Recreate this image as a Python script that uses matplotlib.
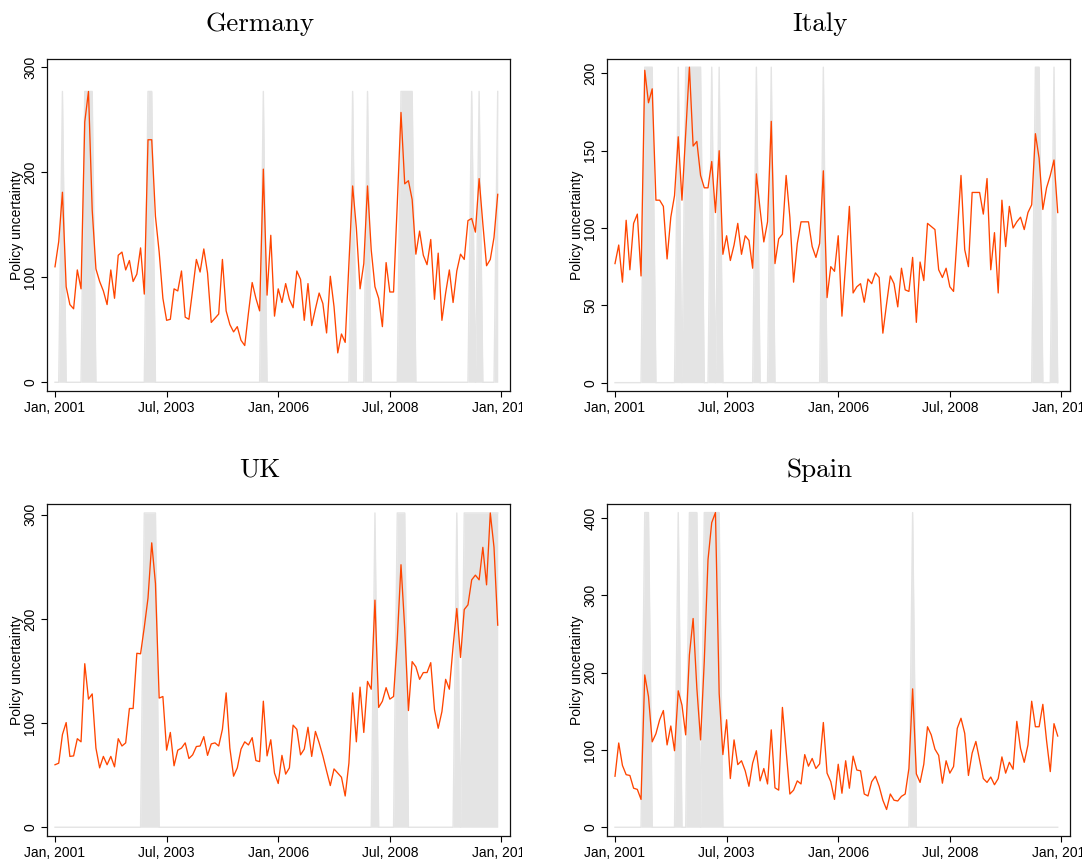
import matplotlib
matplotlib.use('Agg')
import matplotlib.pyplot as plt
import numpy as np
import pandas as pd
from matplotlib.transforms import Bbox, TransformedBbox

plt.rcParams['font.family'] = ['Liberation Sans', 'DejaVu Sans']

# Monthly policy uncertainty index, Jan 2001 - Dec 2010
months = np.arange(120)
tick_months = [0, 30, 60, 90, 120]
tick_labels = [p.strftime('%b, %Y') for p in pd.period_range('2001-01', periods=121, freq='M')[tick_months]]

germany = [110, 134, 181, 91, 74, 70, 107, 89, 248, 277,
           164, 108, 96, 87, 74, 107, 80, 121, 124, 107,
           116, 96, 103, 128, 84, 231, 231, 158, 124, 80,
           59, 60, 89, 87, 106, 62, 60, 88, 117, 105,
           127, 104, 57, 61, 65, 117, 68, 55, 48, 53,
           40, 35, 66, 95, 80, 68, 203, 83, 140, 63,
           89, 76, 94, 79, 71, 106, 98, 59, 94, 54,
           70, 85, 75, 47, 101, 72, 28, 46, 38, 113,
           187, 147, 89, 113, 187, 126, 91, 80, 53, 114,
           86, 86, 170, 257, 189, 192, 174, 122, 144, 121,
           112, 136, 79, 123, 59, 85, 107, 76, 106, 122,
           117, 154, 156, 143, 194, 151, 111, 117, 138, 179]

italy = [77, 89, 65, 105, 73, 103, 109, 69, 202, 181,
         190, 118, 118, 114, 80, 107, 121, 159, 118, 161,
         204, 153, 156, 134, 126, 126, 143, 110, 150, 83,
         95, 79, 89, 103, 83, 95, 92, 74, 135, 112,
         91, 104, 169, 77, 93, 96, 134, 107, 65, 90,
         104, 104, 104, 88, 81, 90, 137, 55, 75, 72,
         95, 43, 77, 114, 58, 62, 64, 52, 67, 64,
         71, 68, 32, 51, 69, 64, 49, 74, 60, 59,
         81, 39, 78, 66, 103, 101, 99, 73, 68, 74,
         62, 59, 96, 134, 86, 75, 123, 123, 123, 109,
         132, 73, 97, 58, 118, 88, 114, 100, 104, 107,
         99, 110, 115, 161, 145, 112, 126, 134, 144, 110]

uk = [60, 61.5, 89, 100.5, 68, 68.5, 85, 82, 157, 123,
      128, 76, 57, 68, 60, 68, 58, 85, 78, 81,
      114, 114, 167, 166.5, 192, 220, 273, 234, 124, 125.5,
      74, 91, 59, 74, 76, 81, 66, 69.5, 77.5, 78,
      87, 69, 80, 81, 78, 94, 129, 76, 49, 57,
      75, 82, 79, 86, 64, 63, 121, 68.5, 84, 52,
      42, 69, 51, 57, 98, 94, 69.5, 75, 96, 68,
      92, 81, 68.5, 54, 40, 56, 52, 48, 30, 61.5,
      129, 82, 134.5, 91, 140, 132.5, 218, 115, 121, 134,
      123, 125.5, 180, 252, 191, 112, 159, 154, 142, 148.5,
      148.5, 158, 113, 95, 111, 142, 132.5, 173.5, 210, 163,
      209, 213.5, 237.5, 242, 237.5, 268.7, 232.7, 301.7, 268.7, 194]

spain = [66, 109, 80, 68, 67, 50.5, 49, 36, 197, 169,
         110.5, 121, 139, 151, 106.5, 131, 99, 176.5, 158, 119.5,
         223, 270, 180, 113, 215, 346, 394, 407, 173, 94,
         139, 63, 113, 81, 86, 73, 53, 83, 99, 60,
         76, 56, 126, 51, 48, 155, 99, 43, 48, 60,
         56, 94, 79, 89, 76, 82, 135.5, 70, 59, 36,
         81.5, 44, 86, 50.5, 92, 74, 73, 43, 40.5, 59,
         66, 53, 35, 23, 43, 35, 34, 40, 43, 76,
         179, 69, 58, 81.5, 130, 119.5, 101, 93, 57, 86,
         70, 78.5, 128, 141, 121.5, 67, 96, 111, 87, 63,
         58, 65, 55, 63, 91, 70, 84, 75, 137, 102,
         84, 106.5, 163, 130, 130, 159, 112, 72, 134, 118]

# months flagged (shaded) in each country
germany_shade = [2, 8, 9, 10, 25, 26, 56, 80, 84, 93, 94, 95, 96, 112, 114, 119]
italy_shade = [8, 9, 10, 17, 19, 20, 21, 22, 23, 26, 28, 38, 42, 56, 113, 114, 118]
uk_shade = [24, 25, 26, 27, 86, 92, 93, 94, 108] + list(range(110, 120))
spain_shade = [8, 9, 17, 20, 21, 22, 24, 25, 26, 27, 28, 80]

W, H = 1086, 861
fig = plt.figure(figsize=(W / 100, H / 100), dpi=100)

LINE = '#ff4500'
SHADE = '#e4e4e4'


def panel(left, top, values, shade, title, yticks, ylim, clip_right):
    ax = fig.add_axes([left / W, 1 - (top + 332) / H, 463 / W, 332 / H])
    vals = np.array(values, dtype=float)
    ind = np.zeros(len(months))
    ind[shade] = 1
    top_val = vals.max()
    ax.fill_between(months, 0, ind * top_val, color=SHADE, lw=0)
    ax.plot(months, ind * top_val, color=SHADE, lw=1.0)
    ax.plot(months, vals, color=LINE, lw=0.95)

    ax.set_xlim(-2.15, 122.3)
    ax.set_ylim(*ylim)
    ax.set_yticks(yticks)
    ax.set_xticks(tick_months)
    ax.set_xticklabels(tick_labels)
    ax.tick_params(direction='out', length=4, width=0.8, labelsize=10,
                   colors='black', pad=3)
    for lab in ax.get_yticklabels():
        lab.set_rotation(90)
        lab.set_va('center')
    ax.set_ylabel('Policy uncertainty', fontsize=10)
    ax.yaxis.set_label_coords(-0.05, 0.5)
    for sp in ax.spines.values():
        sp.set_linewidth(0.9)
        sp.set_color('#111111')

    # each panel is its own graph in the reference, so the last date is cut
    cb = TransformedBbox(Bbox([[0, 0], [clip_right / W, 1]]), fig.transFigure)
    for lab in ax.get_xticklabels():
        lab.set_clip_box(cb)
        lab.set_clip_on(True)

    cx = (left - 47 + 260) / W
    ty = 1 - (top - 59 + 31.5) / H
    fig.text(cx, ty, title, ha='center', va='baseline', fontsize=19.5,
             fontfamily='cmr10')
    return ax


panel(47, 59, germany, germany_shade, 'Germany', [0, 100, 200, 300], (-8.3, 307.9), 522)
panel(607, 59, italy, italy_shade, 'Italy', [0, 50, 100, 150, 200], (-5.4, 209.3), 1082)
panel(47, 504, uk, uk_shade, 'UK', [0, 100, 200, 300], (-8.4, 310.3), 522)
panel(607, 504, spain, spain_shade, 'Spain', [0, 100, 200, 300, 400], (-11.3, 418.1), 1082)

fig.savefig('out.png', dpi=100)
